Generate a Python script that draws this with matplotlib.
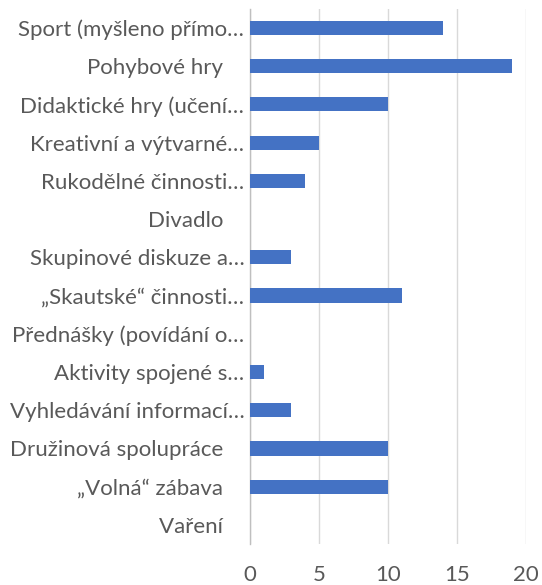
import matplotlib
matplotlib.use("Agg")
import matplotlib.pyplot as plt
import matplotlib.transforms as mtransforms

categories = [
    "Sport (myšleno přímo…",
    "Pohybové hry ",
    "Didaktické hry (učení…",
    "Kreativní a výtvarné…",
    "Rukodělné činnosti…",
    "Divadlo ",
    "Skupinové diskuze a…",
    "„Skautské“ činnosti…",
    "Přednášky (povídání o…",
    "Aktivity spojené s…",
    "Vyhledávání informací…",
    "Družinová spolupráce ",
    "„Volná“ zábava ",
    "Vaření ",
]
values = [14, 19, 10, 5, 4, 0, 3, 11, 0, 1, 3, 10, 10, 0]
xticks = [0, 5, 10, 15, 20]

plt.rcParams['font.family'] = ['Lato', 'DejaVu Sans']

fig = plt.figure(figsize=(5.42, 5.85), dpi=100)
ax = fig.add_axes([0.461, 0.070, 0.509, 0.915])

n = len(categories)
ypos = list(range(n))
ax.barh(ypos, values, height=0.37, color="#4472C4", zorder=3)
ax.set_yticks(ypos)
ax.set_yticklabels(categories)
ax.set_ylim(n - 0.5, -0.5)
ax.set_xlim(0, 20)
ax.set_xticks(xticks)
ax.grid(axis='x', color='#d9d9d9', linewidth=1, zorder=0)
for s in ['top', 'right', 'bottom']:
    ax.spines[s].set_visible(False)
ax.spines['left'].set_color('#bfbfbf')
ax.spines['left'].set_linewidth(1)
ax.tick_params(axis='both', length=0, labelsize=16, colors='#595959')
ax.tick_params(axis='x', pad=15)
ax.tick_params(axis='y', pad=4)

# Labels with a trailing space sit further left in the reference (wider space glyph)
for lbl in ax.get_yticklabels():
    if lbl.get_text().endswith(" "):
        off = mtransforms.ScaledTranslation(-11 / 72, 0, fig.dpi_scale_trans)
        lbl.set_transform(lbl.get_transform() + off)

fig.savefig("out.png", dpi=100)
